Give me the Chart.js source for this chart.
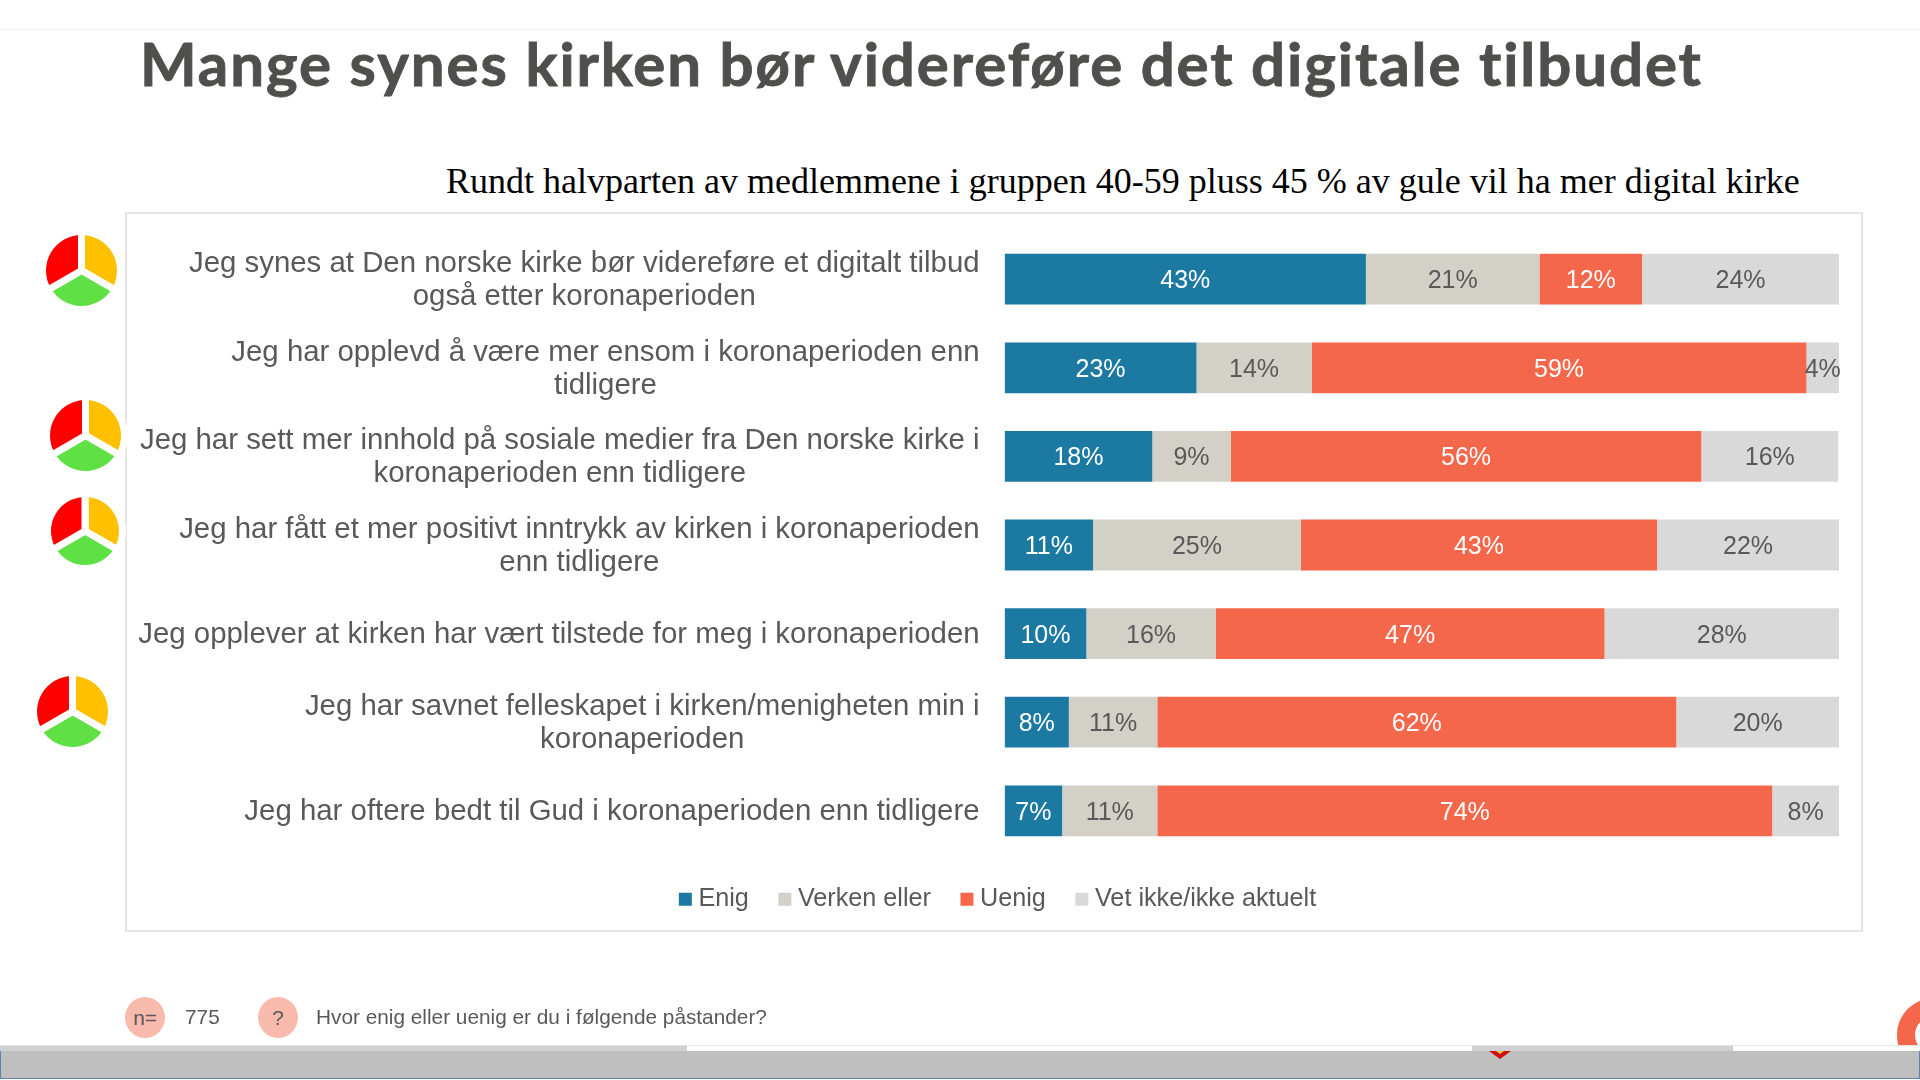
<!DOCTYPE html>
<html lang="no">
<head>
<meta charset="utf-8">
<title>Mange synes kirken bør videreføre det digitale tilbudet</title>
<script src="https://cdn.jsdelivr.net/npm/chart.js@4"></script>
<style>
html,body{margin:0;padding:0;width:1920px;height:1080px;overflow:hidden;background:#fff}
.abs{position:absolute}
#topline{left:0;top:29px;width:1920px;height:1px;background:#efefef}
#title{left:140px;top:27px;font:700 60px Lato,sans-serif;color:#4f4f4d;white-space:nowrap;letter-spacing:1.93px;-webkit-text-stroke:0.9px #4f4f4d}
#subtitle{left:446px;top:160px;font:36px "Liberation Serif",serif;color:#000;white-space:nowrap}
#box{left:125px;top:212px;width:1733.5px;height:716px;border:2px solid #e4e4e4;box-sizing:content-box;background:#fff}
#chart{position:absolute;left:0;top:0}
.icon{position:absolute}
.badge{position:absolute;top:997px;width:40px;height:41px;border-radius:50%;background:#f9baae;color:#595959;font:20.8px "Liberation Sans",sans-serif;text-align:center;line-height:41px}
.foot{position:absolute;top:1005px;font:20.8px "Liberation Sans",sans-serif;color:#595959;white-space:nowrap}
#band{left:0;top:1051px;width:1920px;height:28px;background:#bfbfbf;border-left:1px solid #5b83b5;border-right:1px solid #5b83b5;border-bottom:1px solid #5b83b5;box-sizing:border-box}
#stripLine{left:0;top:1045px;width:1920px;height:1px;background:#e3e3e3}
.strip{position:absolute;top:1046px;height:5px;background:#d0d0d4}
#ringClip{left:1880px;top:990px;width:40px;height:55px;overflow:hidden}
#ring{position:absolute;left:17px;top:8px;width:74px;height:74px;box-sizing:border-box;border:18px solid #f4674a;border-radius:50%}
#tri{left:1489px;top:1051px;width:0;height:0;border-left:11px solid transparent;border-right:11px solid transparent;border-top:8px solid #d01010}
#triY{left:1496px;top:1051px;width:0;height:0;border-left:4px solid transparent;border-right:4px solid transparent;border-top:3px solid #ffd030}
</style>
</head>
<body>
<div id="topline" class="abs"></div>
<div id="title" class="abs">Mange synes kirken bør videreføre det digitale tilbudet</div>
<div id="subtitle" class="abs">Rundt halvparten av medlemmene i gruppen 40-59 pluss 45 % av gule vil ha mer digital kirke</div>
<div id="box" class="abs"></div>
<canvas id="chart" width="1920" height="1080"></canvas>
<div class="badge" style="left:125px">n=</div>
<div class="foot" style="left:185px">775</div>
<div class="badge" style="left:258px">?</div>
<div class="foot" style="left:316px">Hvor enig eller uenig er du i følgende påstander?</div>
<div id="stripLine" class="abs"></div>
<div class="strip" style="left:0;width:687px"></div>
<div class="strip" style="left:1472px;width:261px"></div>
<div id="ringClip" class="abs"><div id="ring"></div></div>
<div id="band" class="abs"></div>
<div id="tri" class="abs"></div>
<div id="triY" class="abs"></div>
<script>
const categories = [
  ["Jeg synes at Den norske kirke bør videreføre et digitalt tilbud", "også etter koronaperioden"],
  ["Jeg har opplevd å være mer ensom i koronaperioden enn", "tidligere"],
  ["Jeg har sett mer innhold på sosiale medier fra Den norske kirke i", "koronaperioden enn tidligere"],
  ["Jeg har fått et mer positivt inntrykk av kirken i koronaperioden", "enn tidligere"],
  ["Jeg opplever at kirken har vært tilstede for meg i koronaperioden"],
  ["Jeg har savnet felleskapet i kirken/menigheten min i", "koronaperioden"],
  ["Jeg har oftere bedt til Gud i koronaperioden enn tidligere"]
];
const enig   = [43.3, 23.0, 17.7, 10.6,  9.8,  7.7,  6.9];
const verken = [20.8, 13.8,  9.4, 24.9, 15.5, 10.6, 11.4];
const uenig  = [12.3, 59.3, 56.4, 42.7, 46.6, 62.2, 73.7];
const vetIkke= [23.6,  3.9, 16.4, 21.8, 28.1, 19.5,  8.0];
const seriesNames = ["Enig", "Verken eller", "Uenig", "Vet ikke/ikke aktuelt"];
const iconSlices = [1, 1, 1];

const TEXT = "#595959";
const FONT = '"Liberation Sans", Arial, sans-serif';

const segmentLabels = {
  id: "segmentLabels",
  afterDatasetsDraw(chart) {
    const ctx = chart.ctx;
    ctx.save();
    ctx.font = "25px " + FONT;
    ctx.textAlign = "center";
    ctx.textBaseline = "middle";
    chart.data.datasets.forEach((ds, i) => {
      chart.getDatasetMeta(i).data.forEach((bar, j) => {
        const c = bar.getCenterPoint();
        ctx.fillStyle = ds.labelColor;
        ctx.fillText(Math.round(ds.data[j]) + "%", c.x, c.y + 2.2);
      });
    });
    ctx.restore();
  }
};

const categoryLabels = {
  id: "categoryLabels",
  afterDraw(chart) {
    const ctx = chart.ctx, y = chart.scales.y;
    const right = chart.chartArea.left - 25;
    const lineH = 33;
    ctx.save();
    ctx.font = "29.4px " + FONT;
    ctx.fillStyle = TEXT;
    ctx.textAlign = "center";
    ctx.textBaseline = "middle";
    categories.forEach((lines, i) => {
      const w = Math.max(...lines.map(l => ctx.measureText(l).width));
      const cx = right - w / 2;
      const cy = y.getPixelForTick(i) + 1.3;
      lines.forEach((l, k) => {
        ctx.fillText(l, cx, cy + (k - (lines.length - 1) / 2) * lineH);
      });
    });
    ctx.restore();
  }
};

const legendNudge = {
  id: "legendNudge",
  afterLayout(chart) { chart.legend.top -= 4; chart.legend.bottom -= 4; }
};

new Chart(document.getElementById("chart"), {
  type: "bar",
  data: {
    labels: categories,
    datasets: [
      { label: seriesNames[0], data: enig,    backgroundColor: "#1c7aa2", labelColor: "#ffffff" },
      { label: seriesNames[1], data: verken,  backgroundColor: "#d3d0c8", labelColor: TEXT },
      { label: seriesNames[2], data: uenig,   backgroundColor: "#f4674a", labelColor: "#ffffff" },
      { label: seriesNames[3], data: vetIkke, backgroundColor: "#d9d9d9", labelColor: TEXT }
    ]
  },
  options: {
    indexAxis: "y",
    responsive: false,
    animation: false,
    events: [],
    layout: { padding: { left: 162, right: 81, top: 234.9, bottom: 154.2 } },
    datasets: { bar: { categoryPercentage: 1, barPercentage: 0.573, borderWidth: 0 } },
    scales: {
      x: { stacked: true, min: 0, max: 100, display: false },
      y: {
        stacked: true,
        grid: { display: false },
        border: { display: false },
        ticks: { display: false },
        afterFit(s) { s.width = 842.6; }
      }
    },
    plugins: {
      tooltip: { enabled: false },
      title: { display: false },
      legend: {
        position: "bottom",
        labels: {
          font: { family: FONT, size: 25.2 },
          color: TEXT,
          usePointStyle: true,
          pointStyle: "rect",
          boxWidth: 1,
          boxHeight: 13,
          padding: 35.5
        }
      }
    }
  },
  plugins: [segmentLabels, categoryLabels, legendNudge]
});

const iconCentres = [[81, 270, 85], [85.5, 435.5, 85], [85, 530.5, 82], [72.5, 711.5, 85]];
iconCentres.forEach(([cx, cy, size]) => {
  const c = document.createElement("canvas");
  c.className = "icon";
  c.width = size; c.height = size;
  c.style.left = (cx - size / 2) + "px";
  c.style.top = (cy - size / 2) + "px";
  document.body.appendChild(c);
  new Chart(c, {
    type: "pie",
    data: {
      datasets: [{
        data: iconSlices,
        backgroundColor: ["#ffc000", "#5fe044", "#ff0000"],
        borderColor: "#ffffff",
        borderWidth: 7
      }]
    },
    options: {
      responsive: false,
      animation: false,
      events: [],
      plugins: { legend: { display: false }, tooltip: { enabled: false } }
    }
  });
});
</script>
</body>
</html>
